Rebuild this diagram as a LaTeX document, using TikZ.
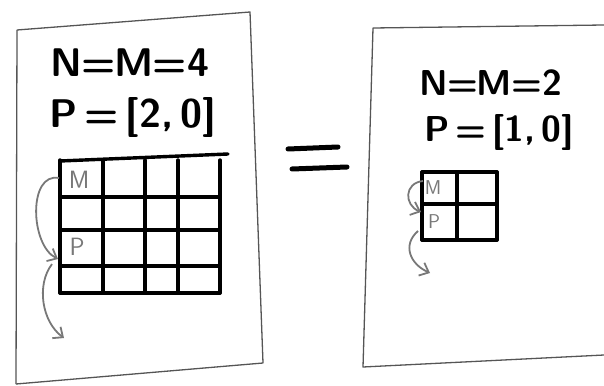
\documentclass[tikz,border=0pt]{standalone}
\definecolor{PenGray}{RGB}{85, 85, 85}
\definecolor{Pencil}{RGB}{120, 120, 120}
\usepackage{tikz}
\usetikzlibrary{arrows.meta, positioning, calc}

\tikzset{
    page/.style={draw=PenGray, line width=1.3pt, line join=round},
    gridline/.style={draw=black, line width=3.4pt, line cap=round},
    eqline/.style={draw=black, line width=5pt, line cap=round},
    formula/.style={font=\fontsize{40}{40}\selectfont\sffamily, inner sep=0pt},
    cellmark/.style={font=\fontsize{25}{25}\selectfont\sffamily, text=Pencil, inner sep=0pt},
    flowarrow/.style={draw=Pencil, line width=1.8pt, -{Straight Barb[length=8pt, width=14pt]}},
}

\begin{document}
\begin{tikzpicture}[x=1pt, y=-1pt]
    \useasboundingbox (0,0) rectangle (604,385);
    % Left sheet
    \draw[page] (17,30) -- (250,12) -- (263,363) -- (16,384);
    \draw[page] (17,30) -- (16,384);
    \node[formula] (eqL1) at (130,63) {\bfseries N\kern-1pt=\kern-1ptM\kern-1pt=\kern1pt4};
    \node[formula] (eqL2) at (133,117) {\bfseries P\,=\,[2,\,0]};
    % Left grid: 4 x 4
    \foreach \x in {60,103,145,178,220} {
        \draw[gridline] (\x,160) -- (\x,293);
    }
    \foreach \y in {197,230,266,293} {
        \draw[gridline] (60,\y) -- (220,\y);
    }
    \draw[gridline] (60,161) -- (228,154);
    \node[cellmark] (mL) at (79,180) {M};
    \node[cellmark] (pL) at (77,247) {P};
    % Left row jumps
    \coordinate (aL1) at (59,178);
    \coordinate (bL1) at (58,259);
    \coordinate (aL2) at (52,264);
    \coordinate (bL2) at (64,338);
    \draw[flowarrow] (aL1) .. controls (28,172) and (30,245) .. (bL1);
    \draw[flowarrow] (aL2) .. controls (36,285) and (42,322) .. (bL2);
    % Equals
    \coordinate (e1a) at (288,149);
    \coordinate (e1b) at (338,147);
    \coordinate (e2a) at (292,169);
    \coordinate (e2b) at (347,167);
    \draw[eqline] (e1a) -- (e1b);
    \draw[eqline] (e2a) -- (e2b);
    % Right sheet
    \draw[page] (604,25) -- (373,28) -- (363,367) -- (604,355);
    \node[formula, font=\fontsize{36}{36}\selectfont\sffamily] (eqR1) at (491,83) {\bfseries N\kern-1pt=\kern-1ptM\kern-1pt=\kern1pt2};
    \node[formula, font=\fontsize{36}{36}\selectfont\sffamily] (eqR2) at (499,132) {\bfseries P\,=\,[1,\,0]};
    % Right grid: 2 x 2
    \foreach \x in {422,457,497} {
        \draw[gridline] (\x,172) -- (\x,240);
    }
    \foreach \y in {172,204,240} {
        \draw[gridline] (422,\y) -- (497,\y);
    }
    \node[cellmark, font=\fontsize{20}{20}\selectfont\sffamily] (mR) at (433,188) {M};
    \node[cellmark, font=\fontsize{20}{20}\selectfont\sffamily] (pR) at (434,222) {P};
    % Right row jumps
    \coordinate (aR1) at (423,181);
    \coordinate (bR1) at (421,212);
    \coordinate (aR2) at (418,231);
    \coordinate (bR2) at (430,273);
    \draw[flowarrow] (aR1) .. controls (404,183) and (404,205) .. (bR1);
    \draw[flowarrow] (aR2) .. controls (402,245) and (410,264) .. (bR2);
\end{tikzpicture}
\end{document}
